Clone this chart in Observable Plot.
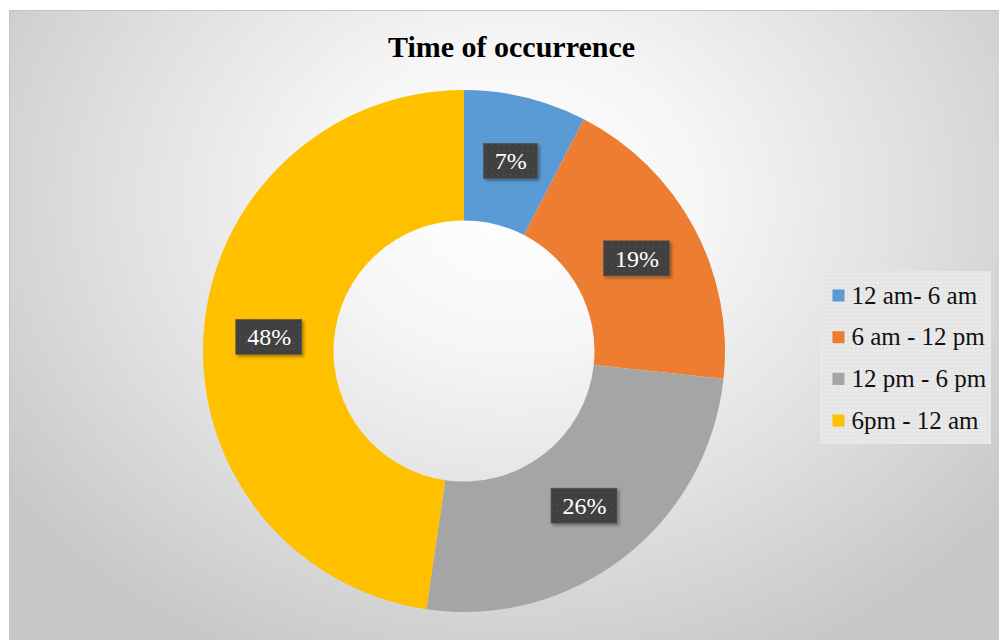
<!DOCTYPE html>
<html><head><meta charset="utf-8">
<script src="https://cdn.jsdelivr.net/npm/d3@7"></script>
<script src="https://cdn.jsdelivr.net/npm/@observablehq/plot@0.6"></script>
<style>
body{margin:0;background:#fff;}
#chart{position:absolute;left:9px;top:10px;width:990px;height:630px;overflow:hidden;
  background: radial-gradient(ellipse 62% 80% at 51% 30%, #ffffff 0%, #f6f6f6 30%, #e0e0e0 65%, #c8c8c8 100%);
  box-shadow: inset 1px 1px 0 #c4c4c4;}
#chart svg{position:absolute;left:0;top:0;}
</style></head><body><div id="chart"></div>
<script>
const categories = ["12 am- 6 am", "6 am - 12 pm", "12 pm - 6 pm", "6pm - 12 am"];
const shares = [7.6, 19.1, 25.6, 47.7];
const labels = ["7%", "19%", "26%", "48%"];
const colors = ["#5b9bd5", "#ed7d31", "#a5a5a5", "#ffc000"];
const title = "Time of occurrence";

const W = 990, H = 630, CX = 455, CY = 341, R = 261, HOLE = 0.5, LABEL_R = 0.75;
const X = px => (px - CX) / R, Y = py => (CY - py) / R;

const rows = categories.map((c, i) => ({category: c, share: shares[i], label: labels[i], i}));
const arcsData = d3.pie().sort(null).value(d => d.share)(rows);
arcsData.forEach(a => {
  const mid = (a.startAngle + a.endAngle) / 2;
  a.data.lx = LABEL_R * Math.sin(mid);
  a.data.ly = LABEL_R * Math.cos(mid);
});

const FONT = "'Liberation Serif', 'Times New Roman', serif";
const LABEL_SIZE = 24;
const ctx = document.createElement("canvas").getContext("2d");
ctx.font = `${LABEL_SIZE}px ${FONT}`;

function donut(index, scales) {
  const cx = scales.x(0), cy = scales.y(0), r = scales.x(1) - scales.x(0);
  const g = d3.create("svg:g");
  const defs = g.append("defs");
  const p = defs.append("pattern").attr("id", "dotpat").attr("width", 6).attr("height", 6).attr("patternUnits", "userSpaceOnUse");
  p.append("rect").attr("width", 6).attr("height", 6).attr("fill", "#3f3f3f");
  p.append("circle").attr("cx", 3).attr("cy", 3).attr("r", 1).attr("fill", "#4d4d4d");
  const lp = defs.append("pattern").attr("id", "legpat").attr("width", 4).attr("height", 4).attr("patternUnits", "userSpaceOnUse");
  lp.append("rect").attr("width", 4).attr("height", 4).attr("fill", "#e4e4e4");
  lp.append("path").attr("d", "M0 0.5H4M0.5 0V4").attr("stroke", "#ebebeb").attr("stroke-width", 1);
  const f = defs.append("filter").attr("id", "shadow").attr("x", "-20%").attr("y", "-20%").attr("width", "150%").attr("height", "150%");
  f.append("feDropShadow").attr("dx", 2).attr("dy", 2).attr("stdDeviation", 1.6).attr("flood-color", "#000").attr("flood-opacity", 0.35);
  const arc = d3.arc().innerRadius(r * HOLE).outerRadius(r);
  g.append("g").attr("transform", `translate(${cx},${cy})`)
    .selectAll("path").data(arcsData).join("path")
    .attr("d", arc).attr("fill", d => scales.color(d.data.category));
  g.append("g").selectAll("rect").data(arcsData).join("rect")
    .each(function(d) {
      const w = ctx.measureText(d.data.label).width + 22, h = 35;
      d3.select(this).attr("x", scales.x(d.data.lx) - w / 2).attr("y", scales.y(d.data.ly) - h / 2)
        .attr("width", w).attr("height", h);
    })
    .attr("fill", "url(#dotpat)").attr("stroke", "#5a5a4a").attr("stroke-width", 0.6).attr("filter", "url(#shadow)");
  return g.node();
}

const legendY = (i) => Y(285 + i * 41.7);

const plot = Plot.plot({
  width: W, height: H, margin: 0,
  x: {domain: [X(0), X(W)], axis: null},
  y: {domain: [Y(H), Y(0)], axis: null},
  color: {domain: categories, range: colors},
  style: {background: "transparent", overflow: "visible"},
  marks: [
    donut,
    Plot.text(arcsData.map(a => a.data), {x: "lx", y: "ly", text: "label", fill: "white",
      fontSize: LABEL_SIZE, fontFamily: FONT, textAnchor: "middle"}),
    Plot.rect([0], {x1: X(811), x2: X(982), y1: Y(261), y2: Y(434), fill: "url(#legpat)"}),
    Plot.dot(rows, {x: X(829), y: d => legendY(d.i), fill: "category", symbol: "square", r: 6.8}),
    Plot.text(rows, {x: X(842), y: d => legendY(d.i), text: "category", fill: "#111",
      fontSize: 25, fontFamily: FONT, textAnchor: "start"}),
    Plot.text([title], {x: X(502), y: Y(37), text: d => d, fontSize: 30, fontWeight: "bold",
      fontFamily: FONT, fill: "#000", textAnchor: "middle"})
  ]
});
document.getElementById("chart").appendChild(plot);
</script>
</body></html>
